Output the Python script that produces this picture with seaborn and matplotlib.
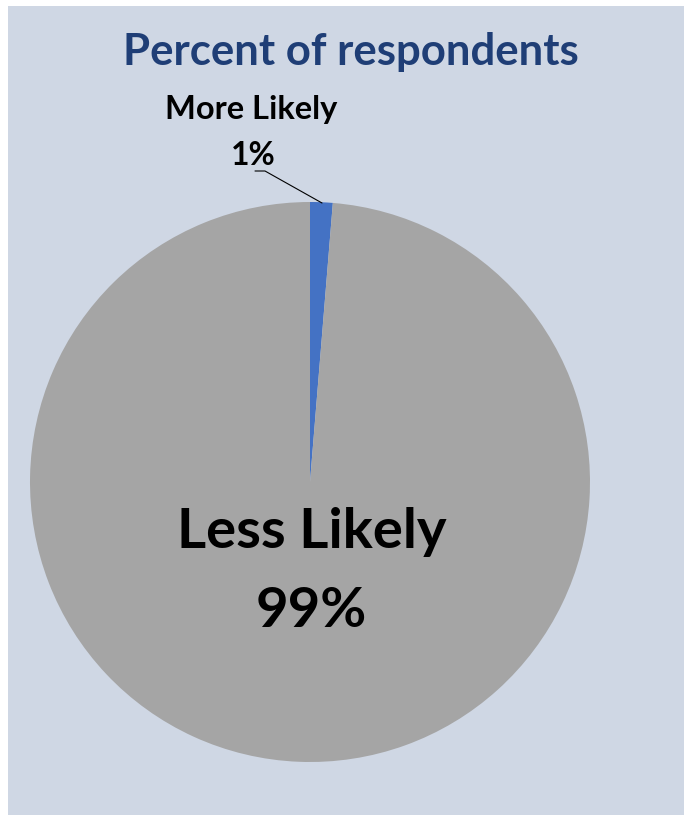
import matplotlib
matplotlib.use('Agg')
import matplotlib.pyplot as plt
import seaborn as sns
from matplotlib.patches import Rectangle

sns.set_theme(style='white')
plt.rcParams['font.family'] = ['Lato', 'DejaVu Sans']

# Data
labels = ['More Likely', 'Less Likely']
values = [1.3, 98.7]
pct_labels = ['1%', '99%']
colors = ['#4472C4', '#A5A5A5']
BG = '#CFD7E4'

W, H = 685, 815


def fx(x):
    return x / W


def fy(y):
    return 1 - y / H


fig = plt.figure(figsize=(6.85, 8.15), dpi=100, facecolor='white')
fig.patches.append(Rectangle((fx(8), 0), 676 / W, 809 / H,
                             transform=fig.transFigure, facecolor=BG,
                             edgecolor='none', zorder=-5))

# pie axes: centre (310, 482), radius 280 px
cx, cy, r = 310, 482, 280
ax = fig.add_axes([fx(cx - r), fy(cy + r), 2 * r / W, 2 * r / H])
ax.set_zorder(2)
ax.set_facecolor('none')
ax.pie(values, colors=colors, startangle=90, counterclock=False,
       radius=1.0, wedgeprops=dict(linewidth=0))
ax.set_xlim(-1, 1)
ax.set_ylim(-1, 1)
ax.set_aspect('auto')
ax.axis('off')

# title
fig.text(fx(351), fy(65), 'Percent of respondents', ha='center',
         va='baseline', fontsize=31.5, fontweight='bold', color='#1F3E76')

# small slice label with leader line
fig.text(fx(251), fy(119), labels[0], ha='center', va='baseline',
         fontsize=23.5, fontweight='bold', color='black')
fig.text(fx(253), fy(165), pct_labels[0], ha='center', va='baseline',
         fontsize=23, fontweight='bold', color='black')
fig.add_artist(plt.Line2D([fx(255), fx(265), fx(322)],
                          [fy(171), fy(171), fy(203)],
                          transform=fig.transFigure, color='black', lw=0.8,
                          zorder=3))

# big slice label
fig.text(fx(312), fy(548), labels[1], ha='center', va='baseline',
         fontsize=40.5, fontweight='bold', color='black', zorder=4)
fig.text(fx(311), fy(627), pct_labels[1], ha='center', va='baseline',
         fontsize=40.5, fontweight='bold', color='black', zorder=4)

fig.savefig('out.png', dpi=100, facecolor='white')
